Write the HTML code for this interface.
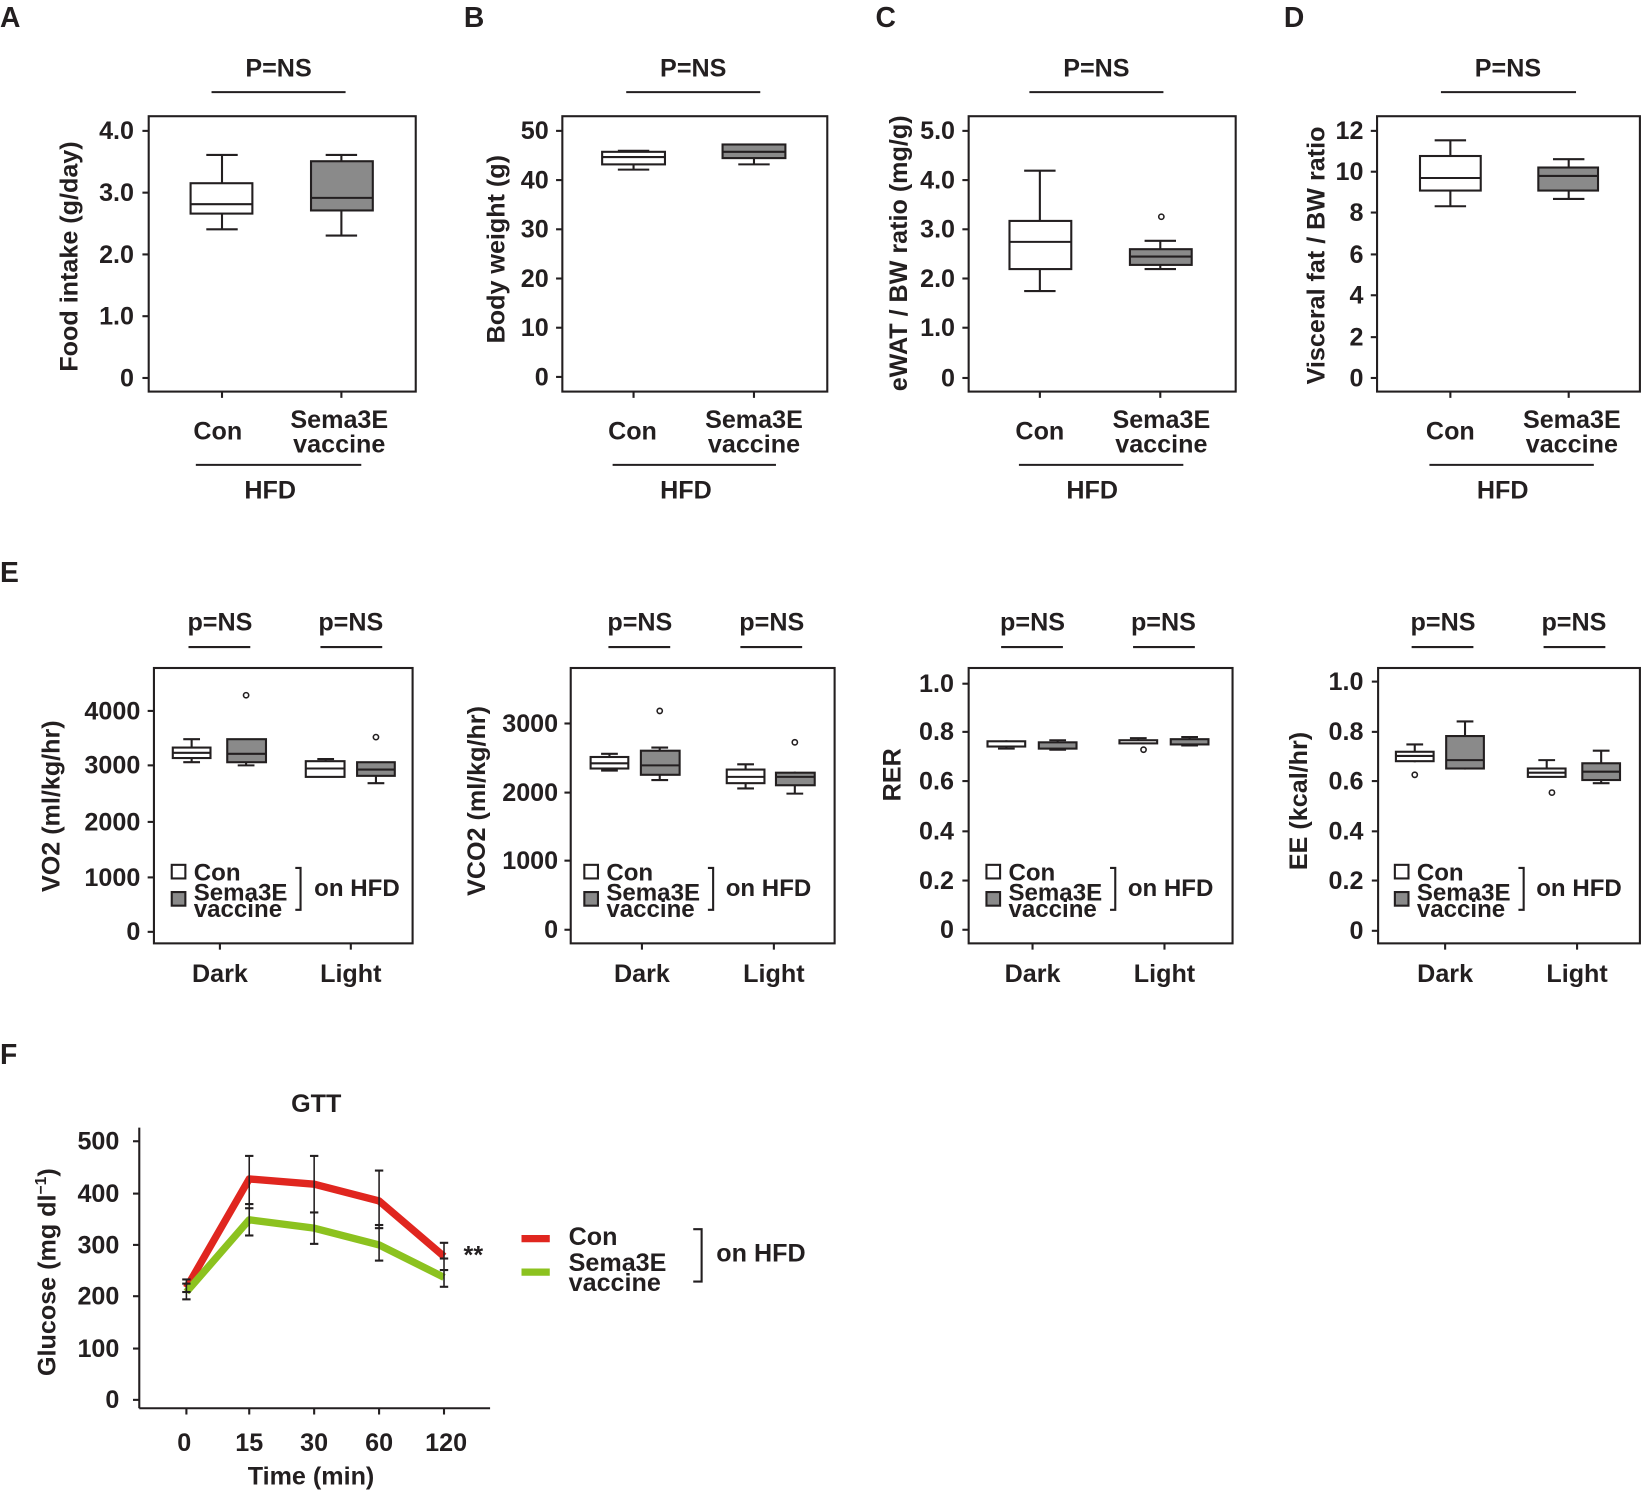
<!DOCTYPE html>
<html><head><meta charset="utf-8"><style>
html,body{margin:0;padding:0;background:#fff;}
svg{display:block;}
text{font-family:"Liberation Sans",Arial,sans-serif;font-weight:bold;fill:#231f20;}
.t{font-size:24px;text-anchor:end;}
.c{text-anchor:middle;}
.L{font-size:27px;}
.lab{font-size:24px;}
.ax{font-size:24px;text-anchor:middle;}
line,rect,path,polyline{stroke:#231f20;stroke-width:2;}
.w{fill:#fff;}.g{fill:#8a8a8a;}
.sm{font-size:23px;}
</style></head><body>
<svg width="1642" height="1492" viewBox="0 0 1568 1425" preserveAspectRatio="none" xmlns="http://www.w3.org/2000/svg">
<g fill="none">
<!-- ============ Panel A ============ -->
<text x="0" y="26" class="L">A</text>
<text x="266" y="73" class="lab c">P=NS</text>
<line x1="202" y1="88" x2="330" y2="88"/>
<rect x="142" y="111" width="255" height="263" fill="none"/>
<g><line x1="136" y1="125" x2="142" y2="125"/><line x1="136" y1="184" x2="142" y2="184"/><line x1="136" y1="243" x2="142" y2="243"/><line x1="136" y1="302" x2="142" y2="302"/><line x1="136" y1="361" x2="142" y2="361"/>
<line x1="212" y1="374" x2="212" y2="380"/><line x1="326" y1="374" x2="326" y2="380"/></g>
<text x="128" y="133" class="t">4.0</text><text x="128" y="192" class="t">3.0</text><text x="128" y="251" class="t">2.0</text><text x="128" y="310" class="t">1.0</text><text x="128" y="369" class="t">0</text>
<text transform="translate(74,245) rotate(-90)" class="ax">Food intake (g/day)</text>
<line x1="212" y1="148" x2="212" y2="219"/><line x1="197" y1="148" x2="227" y2="148"/><line x1="197" y1="219" x2="227" y2="219"/>
<rect x="182" y="175" width="59" height="29" class="w"/><line x1="182" y1="195" x2="241" y2="195"/>
<line x1="326" y1="148" x2="326" y2="225"/><line x1="311" y1="148" x2="341" y2="148"/><line x1="311" y1="225" x2="341" y2="225"/>
<rect x="297" y="154" width="59" height="47" class="g"/><line x1="297" y1="189" x2="356" y2="189"/>
<text x="208" y="420" class="lab c">Con</text><text x="324" y="409" class="lab c">Sema3E</text><text x="324" y="432" class="lab c">vaccine</text>
<line x1="187" y1="444" x2="345" y2="444"/><text x="258" y="476" class="lab c">HFD</text>

<!-- ============ Panel B ============ -->
<text x="443" y="26" class="L">B</text>
<text x="662" y="73" class="lab c">P=NS</text>
<line x1="598" y1="88" x2="726" y2="88"/>
<rect x="537" y="111" width="253" height="263"/>
<g><line x1="531" y1="125" x2="537" y2="125"/><line x1="531" y1="172" x2="537" y2="172"/><line x1="531" y1="219" x2="537" y2="219"/><line x1="531" y1="266" x2="537" y2="266"/><line x1="531" y1="313" x2="537" y2="313"/><line x1="531" y1="360" x2="537" y2="360"/>
<line x1="605" y1="374" x2="605" y2="380"/><line x1="720" y1="374" x2="720" y2="380"/></g>
<text x="524" y="133" class="t">50</text><text x="524" y="180" class="t">40</text><text x="524" y="227" class="t">30</text><text x="524" y="274" class="t">20</text><text x="524" y="321" class="t">10</text><text x="524" y="368" class="t">0</text>
<text transform="translate(482,238) rotate(-90)" class="ax">Body weight (g)</text>
<line x1="605" y1="144" x2="605" y2="162"/><line x1="590" y1="144" x2="620" y2="144"/><line x1="590" y1="162" x2="620" y2="162"/>
<rect x="575" y="145" width="60" height="12" class="w"/><line x1="575" y1="150" x2="635" y2="150"/>
<line x1="720" y1="138" x2="720" y2="157"/><line x1="705" y1="138" x2="735" y2="138"/><line x1="705" y1="157" x2="735" y2="157"/>
<rect x="690" y="138" width="60" height="13" class="g"/><line x1="690" y1="145" x2="750" y2="145"/>
<text x="604" y="420" class="lab c">Con</text><text x="720" y="409" class="lab c">Sema3E</text><text x="720" y="432" class="lab c">vaccine</text>
<line x1="585" y1="444" x2="741" y2="444"/><text x="655" y="476" class="lab c">HFD</text>

<!-- ============ Panel C ============ -->
<text x="836" y="26" class="L">C</text>
<text x="1047" y="73" class="lab c">P=NS</text>
<line x1="983" y1="88" x2="1111" y2="88"/>
<rect x="925" y="111" width="255" height="263"/>
<g><line x1="919" y1="125" x2="925" y2="125"/><line x1="919" y1="172" x2="925" y2="172"/><line x1="919" y1="219" x2="925" y2="219"/><line x1="919" y1="266" x2="925" y2="266"/><line x1="919" y1="313" x2="925" y2="313"/><line x1="919" y1="361" x2="925" y2="361"/>
<line x1="993" y1="374" x2="993" y2="380"/><line x1="1108" y1="374" x2="1108" y2="380"/></g>
<text x="912" y="133" class="t">5.0</text><text x="912" y="180" class="t">4.0</text><text x="912" y="227" class="t">3.0</text><text x="912" y="274" class="t">2.0</text><text x="912" y="321" class="t">1.0</text><text x="912" y="369" class="t">0</text>
<text transform="translate(866,242) rotate(-90)" class="ax">eWAT / BW ratio (mg/g)</text>
<line x1="993" y1="163" x2="993" y2="278"/><line x1="978" y1="163" x2="1008" y2="163"/><line x1="978" y1="278" x2="1008" y2="278"/>
<rect x="964" y="211" width="59" height="46" class="w"/><line x1="964" y1="231" x2="1023" y2="231"/>
<line x1="1108" y1="230" x2="1108" y2="257"/><line x1="1093" y1="230" x2="1123" y2="230"/><line x1="1093" y1="257" x2="1123" y2="257"/>
<rect x="1079" y="238" width="59" height="15" class="g"/><line x1="1079" y1="245" x2="1138" y2="245"/>
<circle cx="1109" cy="207" r="2.5" stroke="#231f20" stroke-width="1.5" fill="#fff"/>
<text x="993" y="420" class="lab c">Con</text><text x="1109" y="409" class="lab c">Sema3E</text><text x="1109" y="432" class="lab c">vaccine</text>
<line x1="973" y1="444" x2="1130" y2="444"/><text x="1043" y="476" class="lab c">HFD</text>

<!-- ============ Panel D ============ -->
<text x="1226" y="26" class="L">D</text>
<text x="1440" y="73" class="lab c">P=NS</text>
<line x1="1376" y1="88" x2="1505" y2="88"/>
<rect x="1315" y="111" width="251" height="263"/>
<g><line x1="1309" y1="125" x2="1315" y2="125"/><line x1="1309" y1="164" x2="1315" y2="164"/><line x1="1309" y1="203" x2="1315" y2="203"/><line x1="1309" y1="243" x2="1315" y2="243"/><line x1="1309" y1="282" x2="1315" y2="282"/><line x1="1309" y1="322" x2="1315" y2="322"/><line x1="1309" y1="361" x2="1315" y2="361"/>
<line x1="1385" y1="374" x2="1385" y2="380"/><line x1="1498" y1="374" x2="1498" y2="380"/></g>
<text x="1302" y="133" class="t">12</text><text x="1302" y="172" class="t">10</text><text x="1302" y="211" class="t">8</text><text x="1302" y="251" class="t">6</text><text x="1302" y="290" class="t">4</text><text x="1302" y="330" class="t">2</text><text x="1302" y="369" class="t">0</text>
<text transform="translate(1265,244) rotate(-90)" class="ax">Visceral fat / BW ratio</text>
<line x1="1385" y1="134" x2="1385" y2="197"/><line x1="1370" y1="134" x2="1400" y2="134"/><line x1="1370" y1="197" x2="1400" y2="197"/>
<rect x="1356" y="149" width="58" height="33" class="w"/><line x1="1356" y1="170" x2="1414" y2="170"/>
<line x1="1498" y1="152" x2="1498" y2="190"/><line x1="1483" y1="152" x2="1513" y2="152"/><line x1="1483" y1="190" x2="1513" y2="190"/>
<rect x="1469" y="160" width="57" height="22" class="g"/><line x1="1469" y1="168" x2="1526" y2="168"/>
<text x="1385" y="420" class="lab c">Con</text><text x="1501" y="409" class="lab c">Sema3E</text><text x="1501" y="432" class="lab c">vaccine</text>
<line x1="1365" y1="444" x2="1522" y2="444"/><text x="1435" y="476" class="lab c">HFD</text>

<!-- ============ Panel E ============ -->
<text x="0" y="556" class="L">E</text>

<!-- E1 VO2 -->
<text x="210" y="602" class="lab c">p=NS</text><text x="335" y="602" class="lab c">p=NS</text>
<line x1="180" y1="618" x2="239" y2="618"/><line x1="306" y1="618" x2="365" y2="618"/>
<rect x="147" y="638" width="247" height="263"/>
<g><line x1="141" y1="679" x2="147" y2="679"/><line x1="141" y1="731" x2="147" y2="731"/><line x1="141" y1="785" x2="147" y2="785"/><line x1="141" y1="838" x2="147" y2="838"/><line x1="141" y1="890" x2="147" y2="890"/>
<line x1="210" y1="901" x2="210" y2="907"/><line x1="335" y1="901" x2="335" y2="907"/></g>
<text x="134" y="687" class="t">4000</text><text x="134" y="739" class="t">3000</text><text x="134" y="793" class="t">2000</text><text x="134" y="846" class="t">1000</text><text x="134" y="898" class="t">0</text>
<text transform="translate(57,770) rotate(-90)" class="ax">VO2 (ml/kg/hr)</text>
<line x1="183" y1="706" x2="183" y2="728"/><line x1="175" y1="706" x2="191" y2="706"/><line x1="175" y1="728" x2="191" y2="728"/><rect x="165" y="714" width="36" height="10" class="w"/><line x1="165" y1="719" x2="201" y2="719"/>
<line x1="235" y1="706" x2="235" y2="731"/><line x1="227" y1="731" x2="243" y2="731"/><rect x="217" y="706" width="37" height="22" class="g"/><line x1="217" y1="720" x2="254" y2="720"/>
<circle cx="235" cy="664" r="2.5" stroke-width="1.5" stroke="#231f20" fill="#fff"/>
<line x1="311" y1="725" x2="311" y2="742"/><line x1="303" y1="725" x2="319" y2="725"/><rect x="292" y="727" width="37" height="15" class="w"/><line x1="292" y1="734" x2="329" y2="734"/>
<line x1="359" y1="728" x2="359" y2="748"/><line x1="351" y1="748" x2="367" y2="748"/><rect x="341" y="728" width="36" height="13" class="g"/><line x1="341" y1="735" x2="377" y2="735"/>
<circle cx="359" cy="704" r="2.5" stroke-width="1.5" stroke="#231f20" fill="#fff"/>
<rect x="164" y="826" width="13" height="13" class="w"/><rect x="164" y="852" width="13" height="13" class="g"/>
<text x="185" y="841" class="lab sm">Con</text><text x="185" y="860" class="lab sm">Sema3E</text><text x="185" y="876" class="lab sm">vaccine</text>
<polyline points="282,829 287,829 287,869 282,869"/><text x="300" y="856" class="lab sm">on HFD</text>
<text x="210" y="938" class="lab c">Dark</text><text x="335" y="938" class="lab c">Light</text>

<!-- E2 VCO2 -->
<text x="611" y="602" class="lab c">p=NS</text><text x="737" y="602" class="lab c">p=NS</text>
<line x1="581" y1="618" x2="640" y2="618"/><line x1="707" y1="618" x2="766" y2="618"/>
<rect x="545" y="638" width="252" height="263"/>
<g><line x1="539" y1="691" x2="545" y2="691"/><line x1="539" y1="757" x2="545" y2="757"/><line x1="539" y1="822" x2="545" y2="822"/><line x1="539" y1="888" x2="545" y2="888"/>
<line x1="613" y1="901" x2="613" y2="907"/><line x1="739" y1="901" x2="739" y2="907"/></g>
<text x="533" y="699" class="t">3000</text><text x="533" y="765" class="t">2000</text><text x="533" y="830" class="t">1000</text><text x="533" y="896" class="t">0</text>
<text transform="translate(463,765) rotate(-90)" class="ax">VCO2 (ml/kg/hr)</text>
<line x1="582" y1="720" x2="582" y2="736"/><line x1="574" y1="720" x2="590" y2="720"/><line x1="574" y1="736" x2="590" y2="736"/><rect x="564" y="723" width="36" height="11" class="w"/><line x1="564" y1="729" x2="600" y2="729"/>
<line x1="630" y1="714" x2="630" y2="745"/><line x1="622" y1="714" x2="638" y2="714"/><line x1="622" y1="745" x2="638" y2="745"/><rect x="612" y="717" width="37" height="23" class="g"/><line x1="612" y1="731" x2="649" y2="731"/>
<circle cx="630" cy="679" r="2.5" stroke-width="1.5" stroke="#231f20" fill="#fff"/>
<line x1="712" y1="730" x2="712" y2="753"/><line x1="704" y1="730" x2="720" y2="730"/><line x1="704" y1="753" x2="720" y2="753"/><rect x="694" y="735" width="36" height="13" class="w"/><line x1="694" y1="742" x2="730" y2="742"/>
<line x1="759" y1="737" x2="759" y2="758"/><line x1="751" y1="758" x2="767" y2="758"/><rect x="741" y="738" width="37" height="12" class="g"/><line x1="741" y1="742" x2="778" y2="742"/>
<circle cx="759" cy="709" r="2.5" stroke-width="1.5" stroke="#231f20" fill="#fff"/>
<rect x="558" y="826" width="13" height="13" class="w"/><rect x="558" y="852" width="13" height="13" class="g"/>
<text x="579" y="841" class="lab sm">Con</text><text x="579" y="860" class="lab sm">Sema3E</text><text x="579" y="876" class="lab sm">vaccine</text>
<polyline points="676,829 681,829 681,869 676,869"/><text x="693" y="856" class="lab sm">on HFD</text>
<text x="613" y="938" class="lab c">Dark</text><text x="739" y="938" class="lab c">Light</text>

<!-- E3 RER -->
<text x="986" y="602" class="lab c">p=NS</text><text x="1111" y="602" class="lab c">p=NS</text>
<line x1="956" y1="618" x2="1015" y2="618"/><line x1="1082" y1="618" x2="1141" y2="618"/>
<rect x="925" y="638" width="252" height="263"/>
<g><line x1="919" y1="653" x2="925" y2="653"/><line x1="919" y1="699" x2="925" y2="699"/><line x1="919" y1="746" x2="925" y2="746"/><line x1="919" y1="794" x2="925" y2="794"/><line x1="919" y1="841" x2="925" y2="841"/><line x1="919" y1="888" x2="925" y2="888"/>
<line x1="986" y1="901" x2="986" y2="907"/><line x1="1112" y1="901" x2="1112" y2="907"/></g>
<text x="911" y="661" class="t">1.0</text><text x="911" y="707" class="t">0.8</text><text x="911" y="754" class="t">0.6</text><text x="911" y="802" class="t">0.4</text><text x="911" y="849" class="t">0.2</text><text x="911" y="896" class="t">0</text>
<text transform="translate(860,740) rotate(-90)" class="ax">RER</text>
<line x1="961" y1="707" x2="961" y2="715"/><line x1="953" y1="715" x2="969" y2="715"/><rect x="943" y="708" width="36" height="5" class="w"/>
<line x1="1010" y1="707" x2="1010" y2="716"/><line x1="1002" y1="707" x2="1018" y2="707"/><line x1="1002" y1="716" x2="1018" y2="716"/><rect x="992" y="709" width="36" height="6" class="g"/>
<line x1="1087" y1="705" x2="1087" y2="710"/><line x1="1079" y1="705" x2="1095" y2="705"/><rect x="1069" y="707" width="36" height="3" class="w"/>
<circle cx="1092" cy="716" r="2.5" stroke-width="1.5" stroke="#231f20" fill="#fff"/>
<line x1="1136" y1="704" x2="1136" y2="712"/><line x1="1128" y1="704" x2="1144" y2="704"/><line x1="1128" y1="712" x2="1144" y2="712"/><rect x="1118" y="706" width="36" height="5" class="g"/>
<rect x="942" y="826" width="13" height="13" class="w"/><rect x="942" y="852" width="13" height="13" class="g"/>
<text x="963" y="841" class="lab sm">Con</text><text x="963" y="860" class="lab sm">Sema3E</text><text x="963" y="876" class="lab sm">vaccine</text>
<polyline points="1060,829 1065,829 1065,869 1060,869"/><text x="1077" y="856" class="lab sm">on HFD</text>
<text x="986" y="938" class="lab c">Dark</text><text x="1112" y="938" class="lab c">Light</text>

<!-- E4 EE -->
<text x="1378" y="602" class="lab c">p=NS</text><text x="1503" y="602" class="lab c">p=NS</text>
<line x1="1348" y1="618" x2="1407" y2="618"/><line x1="1474" y1="618" x2="1533" y2="618"/>
<rect x="1316" y="638" width="250" height="263"/>
<g><line x1="1310" y1="651" x2="1316" y2="651"/><line x1="1310" y1="699" x2="1316" y2="699"/><line x1="1310" y1="746" x2="1316" y2="746"/><line x1="1310" y1="794" x2="1316" y2="794"/><line x1="1310" y1="841" x2="1316" y2="841"/><line x1="1310" y1="889" x2="1316" y2="889"/>
<line x1="1380" y1="901" x2="1380" y2="907"/><line x1="1506" y1="901" x2="1506" y2="907"/></g>
<text x="1302" y="659" class="t">1.0</text><text x="1302" y="707" class="t">0.8</text><text x="1302" y="754" class="t">0.6</text><text x="1302" y="802" class="t">0.4</text><text x="1302" y="849" class="t">0.2</text><text x="1302" y="897" class="t">0</text>
<text transform="translate(1248,765) rotate(-90)" class="ax">EE (kcal/hr)</text>
<line x1="1351" y1="711" x2="1351" y2="728"/><line x1="1343" y1="711" x2="1359" y2="711"/><rect x="1333" y="718" width="36" height="9" class="w"/><line x1="1333" y1="722" x2="1369" y2="722"/>
<circle cx="1351" cy="740" r="2.5" stroke-width="1.5" stroke="#231f20" fill="#fff"/>
<line x1="1399" y1="689" x2="1399" y2="735"/><line x1="1391" y1="689" x2="1407" y2="689"/><rect x="1381" y="703" width="36" height="31" class="g"/><line x1="1381" y1="726" x2="1417" y2="726"/>
<line x1="1477" y1="726" x2="1477" y2="742"/><line x1="1469" y1="726" x2="1485" y2="726"/><rect x="1459" y="734" width="36" height="8" class="w"/><line x1="1459" y1="738" x2="1495" y2="738"/>
<circle cx="1482" cy="757" r="2.5" stroke-width="1.5" stroke="#231f20" fill="#fff"/>
<line x1="1529" y1="717" x2="1529" y2="748"/><line x1="1521" y1="717" x2="1537" y2="717"/><line x1="1521" y1="748" x2="1537" y2="748"/><rect x="1511" y="729" width="36" height="16" class="g"/><line x1="1511" y1="737" x2="1547" y2="737"/>
<rect x="1332" y="826" width="13" height="13" class="w"/><rect x="1332" y="852" width="13" height="13" class="g"/>
<text x="1353" y="841" class="lab sm">Con</text><text x="1353" y="860" class="lab sm">Sema3E</text><text x="1353" y="876" class="lab sm">vaccine</text>
<polyline points="1450,829 1455,829 1455,869 1450,869"/><text x="1467" y="856" class="lab sm">on HFD</text>
<text x="1380" y="938" class="lab c">Dark</text><text x="1506" y="938" class="lab c">Light</text>

<!-- ============ Panel F ============ -->
<text x="0" y="1016" class="L">F</text>
<text x="302" y="1062" class="lab c">GTT</text>
<line x1="133" y1="1077" x2="133" y2="1345"/><line x1="133" y1="1345" x2="468" y2="1345"/>
<g><line x1="127" y1="1090" x2="133" y2="1090"/><line x1="127" y1="1140" x2="133" y2="1140"/><line x1="127" y1="1189" x2="133" y2="1189"/><line x1="127" y1="1238" x2="133" y2="1238"/><line x1="127" y1="1288" x2="133" y2="1288"/><line x1="127" y1="1337" x2="133" y2="1337"/>
<line x1="178" y1="1345" x2="178" y2="1351"/><line x1="238" y1="1345" x2="238" y2="1351"/><line x1="300" y1="1345" x2="300" y2="1351"/><line x1="362" y1="1345" x2="362" y2="1351"/><line x1="424" y1="1345" x2="424" y2="1351"/></g>
<text x="114" y="1098" class="t">500</text><text x="114" y="1148" class="t">400</text><text x="114" y="1197" class="t">300</text><text x="114" y="1246" class="t">200</text><text x="114" y="1296" class="t">100</text><text x="114" y="1345" class="t">0</text>
<text transform="translate(53,1215) rotate(-90)" class="ax">Glucose (mg dl<tspan dy="-9" font-size="15">−1</tspan><tspan dy="9">)</tspan></text>
<text x="176" y="1386" class="lab c">0</text><text x="238" y="1386" class="lab c">15</text><text x="300" y="1386" class="lab c">30</text><text x="362" y="1386" class="lab c">60</text><text x="426" y="1386" class="lab c">120</text>
<text x="297" y="1418" class="lab c">Time (min)</text>
<polyline points="178,1230 238,1126 300,1131 362,1147 424,1200" style="stroke:#e0261f;stroke-width:7;fill:none;stroke-linejoin:round"/>
<polyline points="178,1234 238,1165 300,1173 362,1189 424,1220" style="stroke:#8cc21f;stroke-width:7;fill:none;stroke-linejoin:round"/>
<g style="stroke-width:1.5">
<line style="stroke-width:1.5" x1="178" y1="1222" x2="178" y2="1241"/><line x1="174" y1="1222" x2="182" y2="1222"/><line x1="174" y1="1241" x2="182" y2="1241"/><line x1="174" y1="1226" x2="182" y2="1226"/><line x1="174" y1="1234" x2="182" y2="1234"/>
<line style="stroke-width:1.5" x1="238" y1="1104" x2="238" y2="1180"/><line x1="234" y1="1104" x2="242" y2="1104"/><line x1="234" y1="1150" x2="242" y2="1150"/><line x1="234" y1="1180" x2="242" y2="1180"/><line x1="234" y1="1154" x2="242" y2="1154"/>
<line style="stroke-width:1.5" x1="300" y1="1104" x2="300" y2="1188"/><line x1="296" y1="1104" x2="304" y2="1104"/><line x1="296" y1="1158" x2="304" y2="1158"/><line x1="296" y1="1188" x2="304" y2="1188"/>
<line style="stroke-width:1.5" x1="362" y1="1118" x2="362" y2="1204"/><line x1="358" y1="1118" x2="366" y2="1118"/><line x1="358" y1="1170" x2="366" y2="1170"/><line x1="358" y1="1173" x2="366" y2="1173"/><line x1="358" y1="1204" x2="366" y2="1204"/>
<line style="stroke-width:1.5" x1="424" y1="1187" x2="424" y2="1229"/><line x1="420" y1="1187" x2="428" y2="1187"/><line x1="420" y1="1213" x2="428" y2="1213"/><line x1="420" y1="1202" x2="428" y2="1202"/><line x1="420" y1="1229" x2="428" y2="1229"/>
</g>
<text x="452" y="1207" class="lab c">**</text>
<line x1="498" y1="1183" x2="525" y2="1183" style="stroke:#e0261f;stroke-width:7"/>
<line x1="498" y1="1215" x2="525" y2="1215" style="stroke:#8cc21f;stroke-width:7"/>
<text x="543" y="1189" class="lab">Con</text><text x="543" y="1214" class="lab">Sema3E</text><text x="543" y="1233" class="lab">vaccine</text>
<polyline points="662,1174 670,1174 670,1224 662,1224"/>
<text x="684" y="1205" class="lab">on HFD</text>
</g>
</svg>
</body></html>
